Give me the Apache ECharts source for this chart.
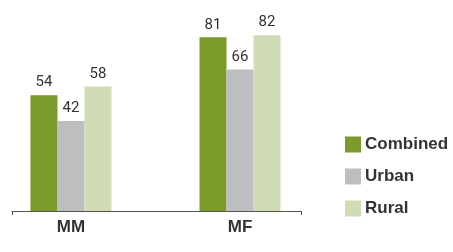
<!DOCTYPE html>
<html>
<head>
<meta charset="utf-8">
<script src="https://cdn.jsdelivr.net/npm/echarts@6/dist/echarts.min.js"></script>
<style>
  html, body { margin: 0; padding: 0; background: #fff; }
  #chart { width: 453px; height: 252px; }
</style>
</head>
<body>
<div id="chart"></div>
<script>
// categories and values
const categories = ['MM', 'MF'];
const seriesNames = ['Combined', 'Urban', 'Rural'];
const combined = [54, 81];
const urban = [42, 66];
const rural = [58, 82];
const colors = ['#7a9a2a', '#bdbec0', '#d0dcb5'];

// bars sit at x = 1, 2 on a value axis so the axis line can run past them
const toPoints = arr => arr.map((v, i) => [i + 1, v]);

const myChart = echarts.init(document.getElementById('chart'));

const makeSeries = (name, data, color) => ({
  name: name,
  type: 'bar',
  data: toPoints(data),
  barWidth: 27,
  barGap: '0%',
  itemStyle: { color: color },
  label: {
    show: true,
    position: 'top',
    distance: 5,
    color: '#333',
    fontFamily: 'Liberation Sans Narrow, Roboto',
    fontSize: 15
  }
});

const option = {
  animation: false,
  grid: { left: 12, right: 152, top: 18, bottom: 41 },
  legend: {
    orient: 'vertical',
    left: 340,
    top: 131,
    itemWidth: 16,
    itemHeight: 16,
    itemGap: 15,
    icon: 'rect',
    data: seriesNames,
    textStyle: {
      fontFamily: 'Liberation Sans',
      fontWeight: 'bold',
      fontSize: 17,
      color: '#333',
      lineHeight: 16,
      padding: [0, 0, 0, -1]
    }
  },
  xAxis: {
    type: 'value',
    min: 0.651,
    max: 2.361,
    splitLine: { show: false },
    axisLine: { show: true, lineStyle: { color: '#555', width: 1 } },
    axisTick: {
      show: true,
      length: 4,
      customValues: [0.651, 2.361],
      lineStyle: { color: '#555' }
    },
    axisLabel: {
      customValues: [1, 2],
      formatter: v => categories[Math.round(v) - 1],
      margin: 8,
      fontFamily: 'Liberation Sans',
      fontWeight: 'bold',
      fontSize: 17,
      color: '#333'
    }
  },
  yAxis: {
    type: 'value',
    min: 0,
    max: 90,
    show: false
  },
  series: [
    makeSeries(seriesNames[0], combined, colors[0]),
    makeSeries(seriesNames[1], urban, colors[1]),
    makeSeries(seriesNames[2], rural, colors[2])
  ]
};
option && myChart.setOption(option);
</script>
</body>
</html>
